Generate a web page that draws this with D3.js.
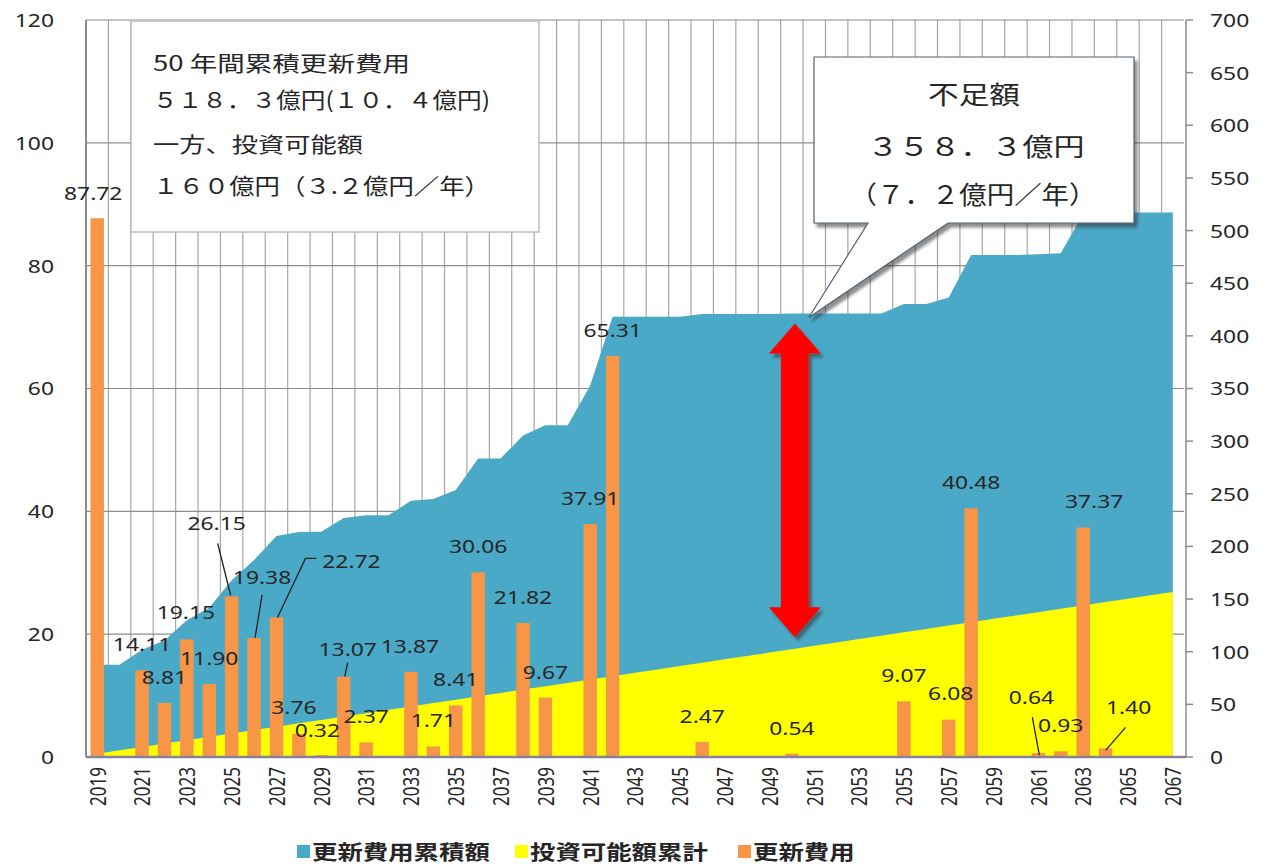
<!DOCTYPE html>
<html>
<head>
<meta charset="utf-8">
<script src="https://cdn.jsdelivr.net/npm/d3@7"></script>
<style>
body { margin: 0; background: #fff; }
text { font-family: "Noto Sans", "Noto Sans CJK JP", sans-serif; fill: #262626; }
.jp { font-family: "Noto Sans CJK JP", sans-serif; }
</style>
</head>
<body>
<svg id="chart" width="1268" height="867"></svg>
<script>
// categories
var years = d3.range(2019, 2068);

// 更新費用 (億円, left axis)
var renewCost = [87.72, 0, 14.11, 8.81, 19.15, 11.90, 26.15, 19.38, 22.72, 3.76,
    0.32, 13.07, 2.37, 0, 13.87, 1.71, 8.41, 30.06, 0, 21.82,
    9.67, 0, 37.91, 65.31, 0, 0, 0, 2.47, 0, 0,
    0, 0.54, 0, 0, 0, 0, 9.07, 0, 6.08, 40.48,
    0, 0, 0.64, 0.93, 37.37, 1.40, 0, 0, 0];

// 更新費用累積額 (億円, right axis)
var renewCum = [87.7, 87.7, 101.8, 110.6, 129.8, 141.7, 167.8, 187.2, 209.9, 213.7,
    214.0, 227.1, 229.5, 229.5, 243.3, 245.0, 253.5, 283.5, 283.5, 305.3,
    315.0, 315.0, 352.9, 418.2, 418.2, 418.2, 418.2, 420.7, 420.7, 420.7,
    420.7, 421.2, 421.2, 421.2, 421.2, 421.2, 430.3, 430.3, 436.4, 476.9,
    476.9, 476.9, 477.5, 478.4, 515.8, 517.2, 517.2, 517.2, 517.2];

// 投資可能額累計 (億円, right axis)
var investCum = [3.2, 6.4, 9.6, 12.8, 16.0, 19.2, 22.4, 25.6, 28.8, 32.0,
    35.2, 38.4, 41.6, 44.8, 48.0, 51.2, 54.4, 57.6, 60.8, 64.0,
    67.2, 70.4, 73.6, 76.8, 80.0, 83.2, 86.4, 89.6, 92.8, 96.0,
    99.2, 102.4, 105.6, 108.8, 112.0, 115.2, 118.4, 121.6, 124.8, 128.0,
    131.2, 134.4, 137.6, 140.8, 144.0, 147.2, 150.4, 153.6, 156.8];

var leftTicks = [0, 20, 40, 60, 80, 100, 120];
var rightTicks = [0, 50, 100, 150, 200, 250, 300, 350, 400, 450, 500, 550, 600, 650, 700];
var legendNames = ['更新費用累積額', '投資可能額累計', '更新費用'];
var noteLines = ['50 年間累積更新費用', '５１８．３億円(１０．４億円)', '一方、投資可能額', '１６０億円（３.２億円／年）'];
var calloutLines = ['不足額', '３５８．３億円', '（７．２億円／年）'];

var colors = { cum: '#4BA9C8', inv: '#FFFF00', bar: '#F79646', grid: '#A6A6A6' };
var SX = 1.27; // the picture is stretched sideways

var svg = d3.select('#chart');
var plot = { l: 86, r: 1184, t: 20, b: 757 };

var x = d3.scaleBand().domain(years).range([plot.l, plot.r]);
var bw = x.bandwidth();
var cx = function(yr) { return x(yr) + bw / 2; };
var yL = d3.scaleLinear().domain([0, 120]).range([plot.b, plot.t]);
var yR = d3.scaleLinear().domain([0, 700]).range([plot.b, plot.t]);

var defs = svg.append('defs');
var f = defs.append('filter').attr('id', 'shadow').attr('x', '-20%').attr('y', '-20%').attr('width', '150%').attr('height', '150%');
f.append('feDropShadow').attr('dx', 3).attr('dy', 4).attr('stdDeviation', 1.5).attr('flood-color', '#333').attr('flood-opacity', 0.55);

function sText(g, px, py, str) {
    return g.append('text')
        .attr('transform', 'translate(' + px + ',' + py + ') scale(' + SX + ',1)')
        .text(str);
}

// gridlines
var grid = svg.append('g');
years.slice(1).forEach(function(yr) {
    grid.append('line').attr('x1', x(yr)).attr('x2', x(yr)).attr('y1', plot.t).attr('y2', plot.b)
        .attr('stroke', colors.grid).attr('stroke-width', 1.2);
});
leftTicks.slice(1).forEach(function(v) {
    grid.append('line').attr('x1', plot.l).attr('x2', plot.r).attr('y1', yL(v)).attr('y2', yL(v))
        .attr('stroke', '#8C8C8C').attr('stroke-width', 1.2);
});

// areas
var cumArea = d3.area().x(function(d, i) { return cx(years[i]); }).y0(yR(0)).y1(function(d) { return yR(d); });
svg.append('path').datum(renewCum).attr('d', cumArea).attr('fill', colors.cum);
svg.append('path').datum(investCum).attr('d', cumArea).attr('fill', colors.inv);

// bars
var barW = bw * 0.6;
svg.append('g').selectAll('rect')
    .data(renewCost)
    .enter().append('rect')
    .attr('x', function(d, i) { return cx(years[i]) - barW / 2; })
    .attr('y', function(d) { return yL(d); })
    .attr('width', barW)
    .attr('height', function(d) { return yL(0) - yL(d); })
    .attr('fill', colors.bar);

// axes lines
svg.append('line').attr('x1', plot.l).attr('x2', plot.l).attr('y1', plot.t).attr('y2', plot.b)
    .attr('stroke', '#8C8C8C').attr('stroke-width', 2);
svg.append('line').attr('x1', plot.l).attr('x2', plot.r + 2).attr('y1', plot.b).attr('y2', plot.b)
    .attr('stroke', '#85829A').attr('stroke-width', 2.5);
svg.append('line').attr('x1', plot.r + 2).attr('x2', plot.r + 2).attr('y1', plot.t).attr('y2', plot.b)
    .attr('stroke', '#8C8C8C').attr('stroke-width', 1.5);

// left axis labels
var leftG = svg.append('g').attr('font-size', 18).attr('text-anchor', 'end').attr('dominant-baseline', 'central');
leftTicks.forEach(function(v) { sText(leftG, 54, yL(v), v); });

// right axis ticks + labels
var rightG = svg.append('g').attr('font-size', 18).attr('dominant-baseline', 'central');
rightTicks.forEach(function(v) {
    rightG.append('line').attr('x1', plot.r + 2).attr('x2', plot.r + 9).attr('y1', yR(v)).attr('y2', yR(v))
        .attr('stroke', '#8C8C8C').attr('stroke-width', 1.5);
    sText(rightG, 1210, yR(v), v);
});

// x labels, every other year
var xG = svg.append('g').attr('font-size', 17).attr('text-anchor', 'end').attr('dominant-baseline', 'central');
years.filter(function(yr, i) { return i % 2 === 0; }).forEach(function(yr) {
    xG.append('text')
        .attr('transform', 'translate(' + cx(yr) + ',767) scale(' + SX + ',1) rotate(-90)')
        .text(yr);
});

// data labels: shift from the bar top centre
var labelShift = {
    2019: [-4, -25], 2023: [-1, -27], 2025: [-15, -73], 2026: [8, -61], 2027: [75, -56],
    2028: [-5, -27], 2029: [-4, -25], 2030: [4, -28], 2033: [-1, -26], 2057: [2, -27],
    2061: [-7, -56], 2063: [11, -26], 2064: [23, -41]
};
var leaders = {
    2025: [[-14, -53], [-1, -1]],
    2026: [[8, -43], [1, 0]],
    2027: [[40, -59], [29, -59], [1, 0]],
    2030: [[4, -14], [1, 0]],
    2061: [[-6, -36], [1, 2]],
    2064: [[20, -21], [0, 2]]
};
var labG = svg.append('g').attr('font-size', 18).attr('text-anchor', 'middle').attr('dominant-baseline', 'central');
renewCost.forEach(function(v, i) {
    if (v <= 0) return;
    var yr = years[i];
    var s = labelShift[yr] || [0, -26];
    var bx = cx(yr), by = yL(v);
    sText(labG, bx + s[0], by + s[1], v.toFixed(2));
    if (leaders[yr]) {
        svg.append('path')
            .attr('d', d3.line()(leaders[yr].map(function(p) { return [bx + p[0], by + p[1]]; })))
            .attr('fill', 'none').attr('stroke', '#222').attr('stroke-width', 1.3);
    }
});

// note box (top left)
svg.append('rect').attr('x', 131).attr('y', 21).attr('width', 408).attr('height', 211)
    .attr('fill', '#fff').attr('stroke', '#BDBDBD').attr('stroke-width', 1.5);
var noteY = [62, 98, 143, 184];
var noteW = [257, 337, 210, 337];
var noteSize = [21, 22, 21, 22];
noteLines.forEach(function(t, i) {
    svg.append('text').attr('class', 'jp')
        .attr('x', 153).attr('y', noteY[i])
        .attr('dominant-baseline', 'central')
        .attr('font-size', noteSize[i])
        .attr('textLength', noteW[i]).attr('lengthAdjust', 'spacingAndGlyphs')
        .text(t);
});

// red double arrow at 2050
var ai = years.indexOf(2050);
var ax = cx(2050) + 3, aTop = yR(renewCum[ai]) + 10, aBot = yR(investCum[ai]) - 12;
var sh = 14, hw = 26, hl = 30;
var arrowPts = [[ax, aTop], [ax + hw, aTop + hl], [ax + sh, aTop + hl], [ax + sh, aBot - hl], [ax + hw, aBot - hl],
    [ax, aBot], [ax - hw, aBot - hl], [ax - sh, aBot - hl], [ax - sh, aTop + hl], [ax - hw, aTop + hl]];
svg.append('path').attr('d', d3.line()(arrowPts) + 'Z').attr('fill', '#FF0000').attr('filter', 'url(#shadow)');

// callout
var tip = [cx(2050) + 17, yR(renewCum[ai]) + 4];
var callout = 'M814,57 H1134 V223 H948 L' + tip[0] + ',' + tip[1] + ' L868,223 H814 Z';
svg.append('path').attr('d', callout).attr('fill', '#fff').attr('stroke', '#4F6173').attr('stroke-width', 1.2)
    .attr('filter', 'url(#shadow)');
var callY = [93, 145, 193];
var callW = [92, 217, 247];
var callX = [974, 976, 973];
calloutLines.forEach(function(t, i) {
    svg.append('text').attr('class', 'jp')
        .attr('x', callX[i]).attr('y', callY[i])
        .attr('text-anchor', 'middle').attr('dominant-baseline', 'central')
        .attr('font-size', 25)
        .attr('textLength', callW[i]).attr('lengthAdjust', 'spacingAndGlyphs')
        .text(t);
});

// legend
var legX = [297, 515, 738];
var legColors = [colors.cum, colors.inv, colors.bar];
var legG = svg.append('g');
legendNames.forEach(function(n, i) {
    legG.append('rect').attr('x', legX[i]).attr('y', 845).attr('width', 13).attr('height', 13).attr('fill', legColors[i]);
    legG.append('text').attr('class', 'jp')
        .attr('transform', 'translate(' + (legX[i] + 15) + ',851) scale(' + SX + ',1)')
        .attr('dominant-baseline', 'central')
        .attr('font-size', 20).attr('font-weight', 'bold')
        .text(n);
});
</script>
</body>
</html>
